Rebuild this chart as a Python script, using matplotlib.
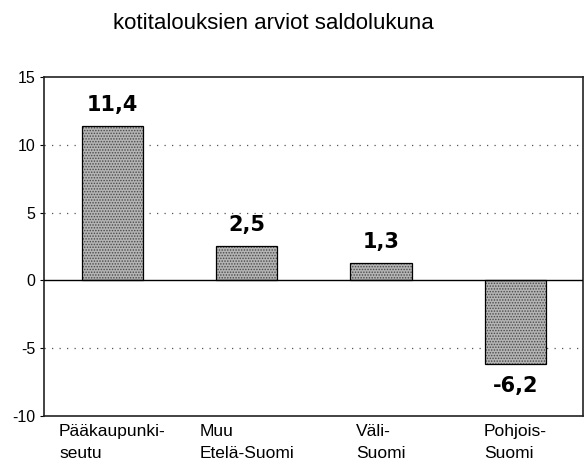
import numpy as np
import matplotlib.pyplot as plt

plt.rcParams['font.family'] = ['Liberation Sans', 'DejaVu Sans']
plt.rcParams['hatch.linewidth'] = 0.7

regions = ["Pääkaupunki-\nseutu", "Muu\nEtelä-Suomi", "Väli-\nSuomi", "Pohjois-\nSuomi"]
values = [11.4, 2.5, 1.3, -6.2]
value_labels = ["11,4", "2,5", "1,3", "-6,2"]
title = "kotitalouksien arviot saldolukuna"

fig = plt.figure(figsize=(5.85, 4.70), dpi=100)
ax = fig.add_axes([0.0752, 0.1149, 0.9966 - 0.0752, 0.7213])

x = np.arange(len(values))
# grey stipple fill, then black outline on top
ax.bar(x, values, width=0.455, color='#b4b4b4', hatch='......',
       edgecolor='#4a4a4a', linewidth=0, zorder=3)
ax.bar(x, values, width=0.455, fill=False, edgecolor='black', linewidth=0.9, zorder=4)

for xi, v, lab in zip(x, values, value_labels):
    if v >= 0:
        ax.annotate(lab, (xi, v), xytext=(0, 8), textcoords='offset points',
                    ha='center', va='bottom', fontsize=15, fontweight='bold',
                    family='DejaVu Sans')
    else:
        ax.annotate(lab, (xi, v), xytext=(0, -8), textcoords='offset points',
                    ha='center', va='top', fontsize=15, fontweight='bold',
                    family='DejaVu Sans')

ax.axhline(0, color='black', linewidth=1.0, zorder=5)
for g in [10, 5, -5]:
    ax.axhline(g, color='#555555', linewidth=0.9, linestyle=(0, (1, 5)), zorder=1)

ax.set_xlim(-0.51, 3.505)
ax.set_ylim(-10, 15)
ax.set_yticks([-10, -5, 0, 5, 10, 15])
ax.set_yticklabels(["-10", "-5", "0", "5", "10", "15"])
ax.set_xticks(x)
ax.set_xticklabels(regions, multialignment='left', linespacing=1.55)
ax.tick_params(axis='x', length=0, pad=6, labelsize=12.5)
ax.tick_params(axis='y', length=3, pad=3, labelsize=11.5)

for s in ax.spines.values():
    s.set_linewidth(1.2)
    s.set_color('#222222')

fig.text(0.467, 0.951, title, ha='center', va='center', fontsize=16)

fig.savefig('out.png', dpi=100)
